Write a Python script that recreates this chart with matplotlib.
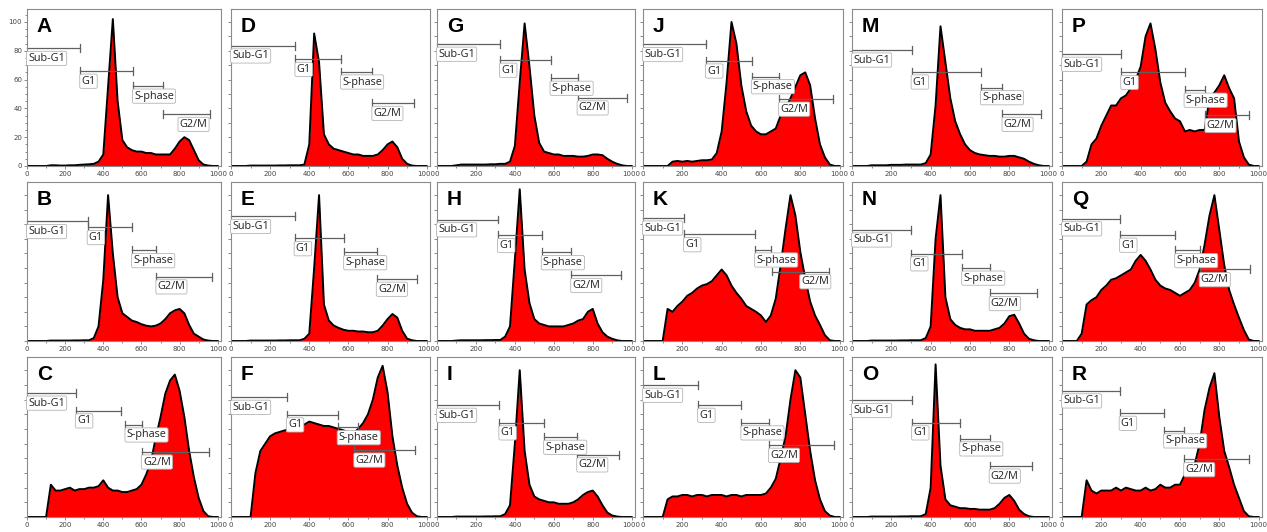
import numpy as np
import matplotlib
matplotlib.use("Agg")
import matplotlib.pyplot as plt
from matplotlib.transforms import blended_transform_factory

# DNA content channel (0..1000, every 25)
channel = np.arange(0, 1001, 25)

# cell counts (41 values per panel)
counts_A = [0,0,0,0,0, 0.5,0.5,0.3,0.3,0.5, 0.5,0.8,1,1.2,1.5, 3,8,55,102,45, 18,13,11,10,10, 9,9,8,8,8, 8,12,17,20,18, 11,4,1,0.3,0, 0]
counts_B = [0,0,0,0,0, 0.3,0.3,0.3,0.3,0.3, 0.4,0.4,0.5,0.5,2, 10,42,100,60,30, 19,16.5,14,13,11.5, 10.5,10,10.5,12,15, 19,21,22,19,11, 5,3,1,0.3,0, 0]
counts_C = [0,0,0,0,0, 22,18,18,19,20, 18,19,19,20,20, 21,25,20,18,18, 17,17,18,19,22, 29,38,54,68,84, 93,97,86,68,45, 27,13,4,0.5,0, 0]
counts_D = [0,0,0,0,0.3, 0.3,0.3,0.3,0.3,0.3, 0.4,0.4,0.5,0.5,0.5, 1,15,92,72,22, 15,12,11,10,9, 8,8,7,7,7, 8,11,15,17,13, 5,1.5,0.3,0,0, 0]
counts_E = [0,0,0,0,0.3, 0.3,0.3,0.3,0.3,0.3, 0.4,0.4,0.5,0.5,0.5, 1.5,5,50,100,25, 14,10.6,9,7.7,7, 7,6.5,6.5,6,6, 7,10.6,15,18.5,16, 7,1.6,0.5,0,0, 0]
counts_F = [0,0,0,0,0, 30,45,50,55,57, 58,59,60,61,62, 63,65,64,63,62, 62,61,60,59,58, 57,60,64,70,80, 95,103,85,55,35, 20,9,3,0.5,0, 0]
counts_G = [0,0,0,0,0.5, 1,1,1,1,1, 1,1.2,1.2,1.5,1.5, 3,14,58,99,69, 35,16,10,9,8, 8,7,7,7,6.5, 6.5,7,8,8,7.5, 5,3,1.5,0.5,0, 0]
counts_H = [0,0,0,0,0.3, 0.5,0.5,0.5,0.5,0.5, 0.6,0.6,0.7,0.7,3, 10,56,104,49,26, 15,12,11,10,10, 10,10,11,12,14, 15,20,22,12,6, 3,1.5,0.5,0,0, 0]
counts_I = [0,0,0,0,0.3, 0.3,0.3,0.3,0.3,0.3, 0.4,0.4,0.5,0.5,2, 8,50,100,45,22, 14,12,11,10,10, 9,9,9,10,12, 15,17,18,14,8, 3,1,0.3,0,0, 0]
counts_J = [0,0,0,0,0, 0,3,3.5,3,3.5, 3,3.5,4,4,4.5, 9,24,58,100,85, 56,38,28,24,22, 22,24,26,35,40, 47,55,63,65,56, 33,15,6,1,0, 0]
counts_K = [0,0,0,0,0, 22,20,24,27,31, 33,36,38,39,41, 45,49,45,38,33, 29,24,22,20,17.5, 13,17.5,29,52,77, 100,86,61,43,27, 17.5,11,4,0.5,0, 0]
counts_L = [0,0,0,0,0, 12,14,14,15,15, 14,15,15,14,15, 15,15,14,15,15, 14,15,15,15,15, 16,20,26,40,55, 80,100,95,70,45, 25,12,4,1,0, 0]
counts_M = [0,0,0,0,0.5, 0.5,0.5,0.5,0.8,0.8, 0.8,1,1,1,1, 2,8,42,97,72, 47,31,22,15,11, 9,8,7.5,7,7, 6.5,6.5,7,7,6, 5,3,1.5,0.5,0, 0]
counts_N = [0,0,0,0,0.3, 0.3,0.3,0.3,0.3,0.3, 0.4,0.4,0.5,0.5,0.5, 2,10,70,100,30, 15,11,9,8,8, 7,7,7,7,8, 9,12,17,18,12, 5,1.5,0.5,0,0, 0]
counts_O = [0,0,0,0,0.3, 0.3,0.3,0.3,0.3,0.3, 0.4,0.4,0.5,0.5,0.5, 2,20,104,35,12, 8,7,6,6,5.5, 5.5,5,5,5,6, 9,13,15,11,5, 2,0.5,0,0,0, 0]
counts_P = [0,0,0,0,0, 3,15,19,28,35, 42,42,47,49,54, 60,69,90,99,81, 58,44,38,33,31, 24,25,24,25,25, 47,51,56,63,54, 47,17,6,1,0, 0]
counts_Q = [0,0,0,0,5, 25,28,30,35,38, 42,43,45,47,49, 55,59,55,49,42, 38,36,35,33,31, 33,35,40,49,66, 86,100,76,52,35, 25,16,7.5,1,0, 0]
counts_R = [0,0,0,0,0, 25,18,16,18,18, 18,20,18,20,19, 18,18,20,18,19, 22,20,20,22,22, 29,31,36,50,73, 88,98,68,45,34, 22,13,4,0.5,0, 0]

gate_names = ["Sub-G1", "G1", "S-phase", "G2/M"]

# gates: (start, end, height as fraction of panel)
gates_A = [(0, 279, 0.75), (279, 555, 0.605), (555, 712, 0.51), (712, 960, 0.33)]
gates_B = [(0, 318, 0.753), (318, 551, 0.715), (551, 678, 0.57), (678, 968, 0.405)]
gates_C = [(0, 256, 0.776), (256, 492, 0.665), (516, 602, 0.577), (602, 952, 0.408)]
gates_D = [(0, 329, 0.766), (329, 562, 0.68), (562, 722, 0.60), (722, 935, 0.40)]
gates_E = [(0, 325, 0.785), (325, 578, 0.645), (578, 745, 0.557), (745, 950, 0.39)]
gates_F = [(0, 285, 0.75), (285, 545, 0.64), (545, 650, 0.56), (630, 940, 0.42)]
gates_G = [(0, 323, 0.777), (323, 583, 0.675), (583, 722, 0.56), (722, 974, 0.435)]
gates_H = [(0, 313, 0.764), (313, 538, 0.665), (538, 689, 0.557), (689, 943, 0.414)]
gates_I = [(0, 320, 0.70), (320, 550, 0.59), (550, 720, 0.50), (720, 935, 0.39)]
gates_J = [(0, 320, 0.775), (320, 553, 0.67), (553, 692, 0.57), (692, 968, 0.427)]
gates_K = [(0, 208, 0.775), (208, 570, 0.67), (570, 650, 0.574), (655, 948, 0.437)]
gates_L = [(0, 280, 0.825), (280, 500, 0.70), (500, 640, 0.59), (640, 970, 0.45)]
gates_M = [(0, 303, 0.74), (303, 655, 0.60), (655, 765, 0.50), (765, 962, 0.33)]
gates_N = [(0, 300, 0.70), (300, 560, 0.55), (560, 700, 0.46), (700, 940, 0.30)]
gates_O = [(0, 305, 0.73), (305, 550, 0.59), (550, 700, 0.49), (700, 915, 0.32)]
gates_P = [(0, 301, 0.713), (301, 623, 0.597), (623, 729, 0.484), (729, 949, 0.323)]
gates_Q = [(0, 295, 0.77), (295, 575, 0.667), (575, 700, 0.57), (700, 955, 0.45)]
gates_R = [(0, 293, 0.79), (293, 519, 0.65), (519, 621, 0.54), (621, 949, 0.36)]

# where the G2/M label sits when it is not at the gate start
g2_label_x = {"A": 800, "K": 805}

# panel grid: columns then rows
letters = [["A", "B", "C"], ["D", "E", "F"], ["G", "H", "I"],
           ["J", "K", "L"], ["M", "N", "O"], ["P", "Q", "R"]]

data = {k: (globals()["counts_" + k], globals()["gates_" + k]) for col in letters for k in col}

W, H = 1267, 532
col_left = [27, 231, 437, 643, 852, 1062]
col_width = [194, 199, 198, 200, 200, 200]
row_top = [9, 182, 357]
row_height = [157, 159, 160]

fig = plt.figure(figsize=(W / 100, H / 100), dpi=100)

for c, col in enumerate(letters):
    for r, letter in enumerate(col):
        l, w = col_left[c], col_width[c]
        t, h = row_top[r], row_height[r]
        ax = fig.add_axes([l / W, 1 - (t + h) / H, w / W, h / H])
        y = np.array(data[letter][0])
        ax.fill_between(channel, y, color="#ff0000", lw=0)
        ax.plot(channel, y, color="black", lw=1.4)
        ax.set_xlim(0, 1017)
        ax.set_ylim(0, 109)
        for s in ax.spines.values():
            s.set_color("#8a8a8a")
            s.set_linewidth(0.8)
        ax.set_xticks(range(0, 1001, 200))
        ax.set_xticks(range(0, 1001, 100), minor=True)
        ax.tick_params(axis="both", which="both", direction="out", colors="#777777",
                       labelsize=5.0, labelcolor="#444444", length=2.5, width=0.6, pad=1)
        ax.tick_params(axis="both", which="minor", length=1.5)
        if letter == "A":
            ax.set_yticks(range(0, 101, 20))
            ax.set_yticks(range(0, 106, 5), minor=True)
        else:
            ax.set_yticks(range(0, 101, 10))
            ax.set_yticklabels([])
        ax.text(0.05, 0.95, letter, transform=ax.transAxes, ha="left", va="top",
                fontsize=15, fontweight="bold", family="Liberation Sans")

        trans = blended_transform_factory(ax.transData, ax.transAxes)
        for i, (x0, x1, gy) in enumerate(data[letter][1]):
            ax.plot([x0, x1], [gy, gy], color="#606060", lw=0.9, transform=trans, clip_on=False)
            for xe in (x0, x1):
                if xe > 0:
                    ax.plot([xe, xe], [gy - 0.025, gy + 0.025], color="#606060", lw=0.9,
                            transform=trans)
            lx = x0 + 6
            if i == 3 and letter in g2_label_x:
                lx = g2_label_x[letter]
            ax.text(lx, gy - 0.03, gate_names[i], transform=trans, ha="left", va="top",
                    fontsize=7.8, color="#222222", family="Open Sans",
                    bbox=dict(boxstyle="round,pad=0.15", fc="white", ec="#b5b5b5", lw=0.6))

fig.savefig("out.png", dpi=100)
